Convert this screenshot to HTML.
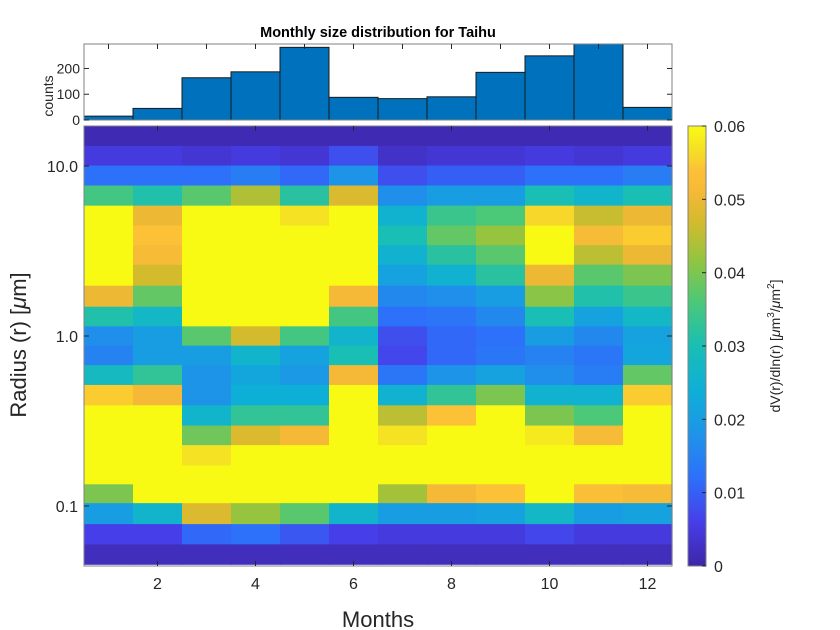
<!DOCTYPE html>
<html><head><meta charset="utf-8"><style>
html,body{margin:0;padding:0;background:#fff;}
svg{display:block;font-family:"Liberation Sans",Arial,sans-serif;}
</style></head><body>
<svg id="chart" width="840" height="630" viewBox="0 0 840 630">
<g id="hist"></g>
<g id="heat"></g>
<g id="cbar"></g>
<text x="378" y="37" text-anchor="middle" font-size="14.5" font-weight="bold" fill="#000">Monthly size distribution for Taihu</text>
<text x="378" y="627" text-anchor="middle" font-size="22" fill="#262626">Months</text>
<text transform="translate(26,345) rotate(-90)" text-anchor="middle" font-size="22" fill="#262626">Radius (r) [<tspan font-style="italic">μ</tspan>m]</text>
<text transform="translate(53,96) rotate(-90)" text-anchor="middle" font-size="14" fill="#262626">counts</text>
<text transform="translate(780,346) rotate(-90)" text-anchor="middle" font-size="14" fill="#262626">dV(r)/dln(r) [<tspan font-style="italic">μ</tspan>m<tspan dy="-6" font-size="10">3</tspan><tspan dy="6">/</tspan><tspan font-style="italic">μ</tspan>m<tspan dy="-6" font-size="10">2</tspan><tspan dy="6">]</tspan></text>
</svg>
<script>
const months = [1,2,3,4,5,6,7,8,9,10,11,12];
const counts = [15,45,164,187,282,88,83,90,185,249,310,49];
const countTicks = [0,100,200];
const monthTicks = [2,4,6,8,10,12];
const radiusTicks = [0.1,1.0,10.0];
const radiusTickLabels = ["0.1","1.0","10.0"];
const cbarTicks = [0,0.01,0.02,0.03,0.04,0.05,0.06];
const cbarTickLabels = ["0","0.01","0.02","0.03","0.04","0.05","0.06"];
const radii = [15.0,11.5,8.8,6.7,5.1,3.9,3.0,2.3,1.7,1.3,1.0,0.77,0.59,0.45,0.34,0.26,0.2,0.15,0.12,0.09,0.068,0.052];
const v00 = [.001,.001,.001,.001,.001,.001,.001,.001,.001,.001,.001,.001];
const v01 = [.005,.005,.004,.005,.004,.008,.003,.004,.004,.005,.004,.005];
const v02 = [.012,.012,.012,.014,.011,.018,.008,.010,.010,.012,.012,.014];
const v03 = [.035,.031,.037,.044,.032,.048,.017,.020,.020,.030,.026,.030];
const v04 = [.060,.050,.060,.060,.057,.060,.025,.034,.036,.056,.046,.050];
const v05 = [.060,.054,.060,.060,.060,.060,.030,.038,.042,.060,.052,.055];
const v06 = [.060,.052,.060,.060,.060,.060,.025,.032,.037,.060,.045,.050];
const v07 = [.060,.047,.060,.060,.060,.060,.021,.025,.032,.050,.037,.040];
const v08 = [.050,.038,.060,.060,.060,.051,.016,.017,.020,.041,.031,.034];
const v09 = [.031,.027,.060,.060,.060,.035,.012,.013,.016,.030,.021,.027];
const v10 = [.017,.020,.037,.047,.035,.026,.008,.011,.012,.020,.016,.021];
const v11 = [.015,.020,.020,.026,.021,.030,.007,.011,.013,.015,.013,.022];
const v12 = [.028,.033,.018,.022,.019,.051,.013,.018,.021,.017,.014,.038];
const v13 = [.055,.051,.018,.024,.024,.060,.025,.033,.040,.025,.025,.055];
const v14 = [.060,.060,.026,.033,.033,.060,.045,.054,.060,.040,.036,.060];
const v15 = [.060,.060,.039,.048,.051,.060,.057,.060,.060,.058,.052,.060];
const v16 = [.060,.060,.057,.060,.060,.060,.060,.060,.060,.060,.060,.060];
const v17 = [.060,.060,.060,.060,.060,.060,.060,.060,.060,.060,.060,.060];
const v18 = [.040,.060,.060,.060,.060,.060,.043,.051,.054,.060,.053,.052];
const v19 = [.020,.026,.048,.042,.037,.026,.020,.020,.021,.027,.020,.021];
const v20 = [.006,.006,.011,.012,.009,.006,.005,.005,.005,.007,.005,.005];
const v21 = [.002,.002,.002,.002,.002,.002,.002,.002,.002,.002,.002,.002];
const values = [v00,v01,v02,v03,v04,v05,v06,v07,v08,v09,v10,v11,v12,v13,v14,v15,v16,v17,v18,v19,v20,v21];

const NS = "http://www.w3.org/2000/svg";
function mk(tag, attrs, parent){const e=document.createElementNS(NS,tag);for(const k in attrs)e.setAttribute(k,attrs[k]);parent.appendChild(e);return e;}
const L=84,R=672;
const xM = m => L + (m-0.5)*(R-L)/12;
const colW = (R-L)/12;
const HT=44,HB=120,HMAX=295;
const yC = c => HB - c/HMAX*(HB-HT);
const PT=126,PB=566;
const yR = r => 336 - Math.log10(r)*170;
const CB0=688,CB1=706,VMAX=0.06;
const yV = v => PB - v/VMAX*(PB-PT);
const stops=[[0,62,38,168],[0.1,70,62,232],[0.2,45,112,250],[0.3,30,148,232],[0.4,14,175,214],[0.5,25,190,180],[0.6,75,200,120],[0.7,150,196,62],[0.78,210,186,45],[0.85,245,185,55],[0.9,252,193,55],[0.95,245,226,35],[1,249,250,20]];
function parula(v){let t=Math.max(0,Math.min(1,v/VMAX));for(let i=1;i<stops.length;i++){if(t<=stops[i][0]){const a=stops[i-1],b=stops[i],f=(t-a[0])/(b[0]-a[0]);return `rgb(${Math.round(a[1]+f*(b[1]-a[1]))},${Math.round(a[2]+f*(b[2]-a[2]))},${Math.round(a[3]+f*(b[3]-a[3]))})`;}}return "rgb(249,250,20)";}

// histogram
const hist=document.getElementById('hist');
months.forEach((m,i)=>{
  const top=Math.max(HT,yC(counts[i]));
  const b=mk('rect',{x:xM(m)-colW/2,y:top,width:colW,height:HB-top,fill:'#0072bd',stroke:'#1a1a1a','stroke-width':1},hist);
  
  
});
mk('rect',{x:L,y:HT,width:R-L,height:HB-HT,fill:'none',stroke:'#808080','stroke-width':1},hist);
months.forEach(m=>{mk('line',{x1:xM(m),x2:xM(m),y1:HT,y2:HT+5,stroke:'#262626'},hist);});
countTicks.forEach(c=>{
  mk('line',{x1:L,x2:L+5,y1:yC(c),y2:yC(c),stroke:'#262626'},hist);
  mk('line',{x1:R,x2:R-5,y1:yC(c),y2:yC(c),stroke:'#262626'},hist);
  const t=mk('text',{x:L-4,y:yC(c)+5,'text-anchor':'end','font-size':14,fill:'#262626'},hist);
  t.textContent=c;
  
  
});

// heatmap
const heat=document.getElementById('heat');
radii.forEach((r,ri)=>{
  const yc=yR(r);
  const yPrev = ri>0 ? yR(radii[ri-1]) : yc-(yR(radii[1])-yc);
  const yNext = ri<radii.length-1 ? yR(radii[ri+1]) : yc+(yc-yR(radii[ri-1]));
  const top=(yc+yPrev)/2, bot=(yc+yNext)/2;
  months.forEach((m,mi)=>{
    const c=mk('rect',{x:xM(m)-colW/2,y:top,width:colW+0.6,height:bot-top+0.6,fill:parula(values[ri][mi])},heat);
    
    
  });
});
mk('rect',{x:L,y:PT,width:R-L,height:PB-PT,fill:'none',stroke:'#808080','stroke-width':1},heat);
monthTicks.forEach(m=>{
  mk('line',{x1:xM(m),x2:xM(m),y1:PB,y2:PB-5,stroke:'#262626'},heat);
  mk('line',{x1:xM(m),x2:xM(m),y1:PT,y2:PT+5,stroke:'#262626'},heat);
  const t=mk('text',{x:xM(m),y:PB+23,'text-anchor':'middle','font-size':16,fill:'#262626'},heat);
  t.textContent=m;
  
  
});
radiusTicks.forEach((r,i)=>{
  mk('line',{x1:L,x2:L+5,y1:yR(r),y2:yR(r),stroke:'#262626'},heat);
  mk('line',{x1:R,x2:R-5,y1:yR(r),y2:yR(r),stroke:'#262626'},heat);
  const t=mk('text',{x:L-6,y:yR(r)+6,'text-anchor':'end','font-size':16,fill:'#262626'},heat);
  t.textContent=radiusTickLabels[i];
  
  
});

// colorbar
const cbar=document.getElementById('cbar');
const defs=mk('defs',{},cbar);
const g=mk('linearGradient',{id:'pg',x1:0,y1:1,x2:0,y2:0},defs);
for(let i=0;i<=40;i++){mk('stop',{offset:i/40,'stop-color':parula(i/40*VMAX)},g);}
mk('rect',{x:CB0,y:PT,width:CB1-CB0,height:PB-PT,fill:'url(#pg)',stroke:'#808080','stroke-width':1},cbar);
cbarTicks.forEach((v,i)=>{
  mk('line',{x1:CB1,x2:CB1-4,y1:yV(v),y2:yV(v),stroke:'#262626'},cbar);
  const t=mk('text',{x:CB1+8,y:yV(v)+6,'font-size':16,fill:'#262626'},cbar);
  t.textContent=cbarTickLabels[i];
  
  
});
</script>
</body></html>
